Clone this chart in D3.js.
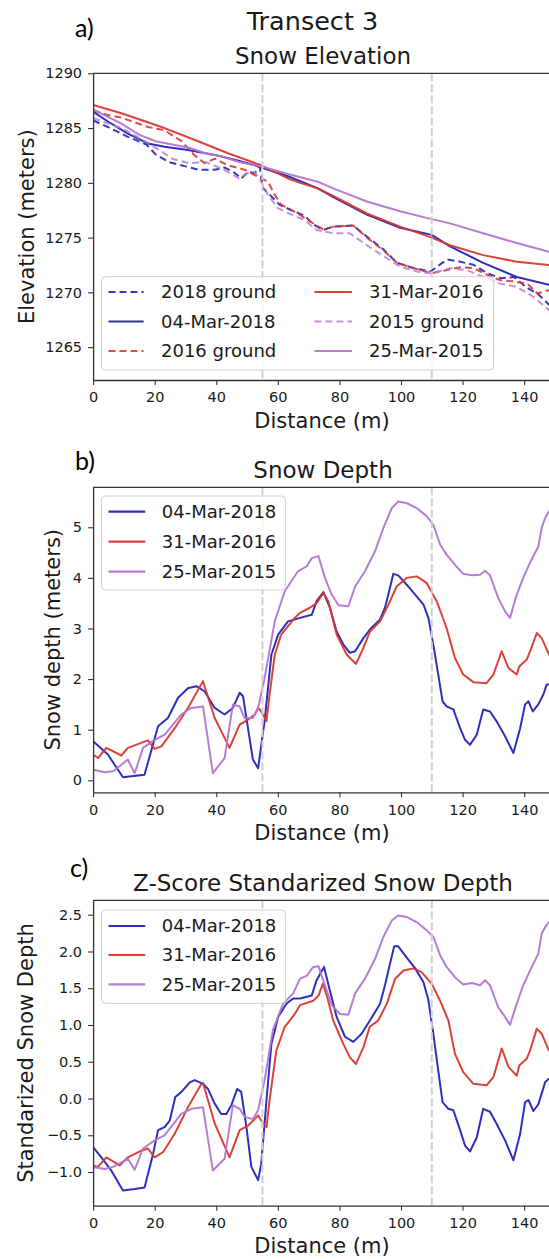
<!DOCTYPE html>
<html><head><meta charset="utf-8">
<script src="https://cdn.jsdelivr.net/npm/d3@7"></script>
<style>
body{margin:0;background:#fff;}
svg{display:block;font-family:"DejaVu Sans",sans-serif;background:#fff;}
</style></head><body>
<svg id="chart" width="549" height="1259"></svg>
<script>
// ---------- DATA (distance m, value) ----------
const xTicks = [0, 20, 40, 60, 80, 100, 120, 140];
const elevTicks = [1265, 1270, 1275, 1280, 1285, 1290];
const depthTicks = [0, 1, 2, 3, 4, 5];
const zTicks = [-1.0, -0.5, 0.0, 0.5, 1.0, 1.5, 2.0, 2.5];
const markerDistances = [55, 110];

const ground2018 = [[0,1285.7],[4.8,1285.1],[11.3,1284.2],[17.3,1283.5],[20.3,1282.6],[24.6,1281.9],[30,1281.5],[34.3,1281.2],[39.5,1281.2],[42.8,1281.4],[46,1280.9],[48.2,1280.4],[50.3,1281.0],[52.5,1280.9],[54.1,1281.5],[55.2,1279.5],[57.4,1278.9],[60.6,1278.0],[64.4,1277.5],[68.7,1277.0],[71.5,1276.2],[74.8,1275.7],[78,1276.0],[84.5,1276.1],[88.9,1275.1],[94.4,1273.9],[98.7,1272.7],[104.2,1272.2],[109.6,1271.9],[111.7,1272.35],[115,1273.0],[119.3,1272.8],[123.7,1272.5],[128,1271.75],[132.3,1271.3],[136.7,1271.4],[141,1270.4],[144.3,1269.9],[148,1268.9],[150,1268.4]];
const snow2018 = [[0,1286.5],[4.8,1285.6],[11.3,1284.5],[17.8,1283.6],[23.2,1283.3],[30.8,1283.0],[39.5,1282.55],[46,1282.1],[52.5,1281.6],[54.6,1281.4],[63.3,1280.6],[73,1279.5],[78,1278.7],[88.9,1277.1],[99.7,1275.9],[110,1275.25],[115.9,1274.2],[126.7,1272.7],[137.6,1271.4],[148,1270.7],[150,1270.5]];
const ground2016 = [[0,1286.6],[4.8,1286.2],[9.2,1285.95],[17.8,1285.1],[23.2,1284.8],[28.7,1283.8],[33,1282.5],[36.2,1281.8],[39.5,1282.2],[43.8,1281.6],[49.2,1281.2],[52.5,1280.7],[54.6,1280.4],[56.8,1280.1],[59,1278.9],[61.1,1278.0],[63.3,1277.7],[67.6,1277.0],[72.6,1276.1],[74.8,1275.75],[78,1276.0],[84.5,1276.1],[88.9,1275.0],[94.4,1273.8],[98.7,1272.7],[104.2,1272.2],[110,1271.75],[115,1272.05],[119.3,1272.3],[123.7,1272.2],[128,1271.6],[132.3,1271.1],[136.7,1271.0],[141,1270.8],[144.3,1269.9],[148,1270.2],[150,1270.3]];
const snow2016 = [[0,1287.1],[9.2,1286.35],[23.2,1285.0],[34.1,1283.8],[43.8,1282.7],[54.6,1281.6],[63.3,1280.4],[67.2,1280.0],[73,1279.5],[78,1278.8],[88.9,1277.2],[99.7,1276.0],[110,1275.0],[115.9,1274.3],[126.7,1273.4],[137.6,1272.8],[148,1272.5],[150,1272.4]];
const ground2015 = [[0,1285.9],[9.2,1285.0],[14.9,1284.1],[20.3,1283.2],[25.7,1282.2],[31.1,1281.8],[36.5,1281.9],[41.9,1281.3],[47.4,1280.4],[50.3,1280.9],[52.5,1281.0],[54.6,1280.1],[56.8,1278.9],[60,1277.7],[64.4,1277.1],[68.7,1276.6],[72.6,1275.7],[78,1275.4],[83.4,1275.4],[88.9,1274.3],[94.4,1273.3],[99.7,1272.35],[105.1,1271.9],[110,1271.75],[115.9,1272.2],[121.3,1272.05],[126.7,1271.4],[132.1,1270.8],[137.6,1270.5],[143,1269.6],[148,1268.4],[150,1267.9]];
const snow2015 = [[0,1286.7],[9.2,1285.4],[14.9,1284.4],[20.3,1283.8],[25.7,1283.5],[31.1,1283.2],[36.5,1282.7],[41.9,1282.4],[47.4,1281.9],[54.6,1281.5],[63.3,1280.8],[73,1280.1],[78,1279.5],[88.9,1278.3],[99.7,1277.4],[108.3,1276.8],[115.9,1276.3],[126.7,1275.4],[137.6,1274.5],[148,1273.7],[150,1273.55]];

const depth2018 = [[0,0.77],[4.8,0.51],[9.7,0.06],[16.7,0.11],[21.1,1.07],[24.3,1.23],[27.6,1.63],[30.8,1.82],[33.5,1.86],[36.2,1.76],[39.5,1.43],[42.7,1.30],[45.4,1.43],[47.6,1.73],[48.7,1.66],[51.9,0.41],[53.6,0.24],[55.7,1.17],[57.9,2.48],[60.1,2.88],[63.3,3.14],[67.2,3.21],[71,3.27],[72.6,3.54],[74.8,3.72],[76.9,3.41],[79.1,2.94],[81.3,2.68],[83.4,2.52],[85.1,2.55],[87.8,2.81],[89.9,2.98],[93.2,3.18],[94.8,3.41],[96.4,3.80],[97.5,4.08],[99.1,4.05],[101.8,3.87],[104.6,3.67],[107.3,3.47],[108.9,3.21],[110.5,2.68],[112.1,2.09],[113.5,1.56],[114.8,1.46],[117,1.40],[119.2,1.03],[120.8,0.80],[122.4,0.70],[124.6,0.90],[126.7,1.40],[128.9,1.36],[131,1.17],[133.8,0.87],[136.5,0.54],[138.7,1.03],[140.3,1.50],[141.4,1.56],[142.8,1.36],[144.6,1.50],[146.2,1.69],[147.3,1.89],[150,1.92]];
const depth2016 = [[0,0.51],[1.6,0.44],[4.3,0.64],[9.2,0.49],[11.3,0.64],[17.8,0.79],[20,0.62],[22.2,0.67],[26.5,1.03],[30.8,1.43],[35.7,1.96],[36.2,1.86],[39.5,1.23],[44.3,0.64],[47.6,1.10],[50.3,1.20],[52.5,1.30],[53.6,1.43],[54.6,1.36],[56.3,1.17],[57.3,1.69],[59,2.48],[61.1,2.88],[65.5,3.21],[67.2,3.31],[70.4,3.41],[72.6,3.50],[74.8,3.70],[76.4,3.54],[79.1,2.88],[82.4,2.48],[85.4,2.30],[87.8,2.62],[89.9,2.94],[93.2,3.14],[95.9,3.47],[98.6,3.83],[101.8,4.00],[105.1,4.03],[108.3,3.90],[111.6,3.54],[114.8,3.01],[117.5,2.42],[120.2,2.09],[123.5,1.94],[127.8,1.92],[130,2.09],[132.7,2.55],[134.9,2.22],[137.6,2.09],[138.4,2.25],[140.8,2.38],[141.9,2.55],[144.1,2.91],[145.7,2.81],[148.1,2.48],[150,2.40]];
const depth2015 = [[0,0.21],[3.8,0.16],[6.5,0.18],[11.3,0.41],[13.5,0.14],[16.2,0.64],[20,0.80],[23.2,0.90],[28.6,1.30],[31.9,1.43],[35.7,1.46],[38.9,0.14],[42.7,0.44],[45.4,1.50],[47.6,1.46],[49.2,1.23],[51.9,1.23],[53.6,1.43],[55.7,2.02],[59,3.14],[62.2,3.73],[66.5,4.13],[69.4,4.23],[71,4.39],[73.2,4.43],[75.3,4.00],[77.5,3.67],[79.7,3.46],[82.9,3.44],[85.1,3.83],[88.3,4.13],[91.6,4.53],[94.3,4.99],[97,5.38],[99.1,5.51],[101.8,5.48],[105.1,5.38],[108.3,5.22],[110.5,5.05],[112.7,4.66],[114.8,4.46],[117.5,4.26],[120.2,4.08],[123,4.05],[125.7,4.06],[127.3,4.14],[128.9,4.05],[131.6,3.60],[133.8,3.34],[135.4,3.21],[137.6,3.67],[139.7,4.00],[141.9,4.30],[144.6,4.62],[145.7,4.99],[146.8,5.18],[148.1,5.32],[150,5.40]];

const z2018 = [[0,-0.66],[2.7,-0.80],[5.9,-0.98],[9.7,-1.25],[13.5,-1.23],[16.7,-1.21],[19.5,-0.75],[21.1,-0.43],[23.2,-0.39],[24.9,-0.30],[26.7,0.02],[28.7,0.09],[31.4,0.22],[33,0.25],[35.7,0.20],[37.3,0.13],[39.5,-0.07],[41.6,-0.21],[43.3,-0.21],[44.9,-0.09],[46.8,0.13],[48.1,0.09],[49.8,-0.39],[51.4,-0.93],[53.6,-1.11],[54.6,-0.89],[56.3,-0.03],[57.9,0.74],[60.1,1.11],[62.8,1.29],[65,1.36],[67.2,1.36],[71,1.40],[72.6,1.61],[75,1.79],[76.9,1.47],[79.1,1.11],[81.8,0.84],[84.5,0.77],[87.2,0.88],[89.9,1.06],[93.2,1.29],[94.8,1.54],[96.4,1.83],[97.8,2.07],[99.1,2.07],[101.8,1.92],[104.6,1.77],[107.3,1.58],[108.9,1.34],[110.5,0.88],[112.1,0.38],[113.5,-0.05],[115.4,-0.14],[117,-0.16],[119.2,-0.43],[120.8,-0.64],[122.4,-0.72],[124.6,-0.53],[126.7,-0.14],[128.9,-0.18],[131,-0.34],[133.8,-0.57],[136.5,-0.84],[138.7,-0.48],[140.3,-0.05],[141.4,-0.02],[143,-0.17],[144.6,-0.08],[146.8,0.22],[148.1,0.27],[150,0.28]];
const z2016 = [[0,-0.91],[1.6,-0.93],[4.3,-0.80],[8.6,-0.91],[11.3,-0.80],[15.7,-0.71],[17.8,-0.68],[20,-0.80],[22.7,-0.73],[26.5,-0.48],[30.8,-0.12],[35.2,0.20],[35.7,0.21],[39.5,-0.34],[44.3,-0.80],[47.6,-0.43],[50.3,-0.37],[53.6,-0.23],[54.6,-0.30],[56.3,-0.39],[57.3,-0.03],[59.5,0.65],[62.2,0.97],[65.5,1.15],[67.2,1.27],[71.5,1.33],[73.2,1.40],[74.6,1.56],[75.9,1.40],[78,1.06],[81.3,0.74],[83.4,0.56],[85.4,0.47],[87.8,0.70],[89.9,0.98],[92.6,1.06],[95.4,1.29],[98.1,1.63],[100.8,1.74],[104,1.77],[106.7,1.72],[110,1.56],[112.7,1.33],[115.4,1.06],[117.5,0.61],[120.2,0.36],[123.5,0.20],[127.8,0.18],[130,0.29],[132.7,0.68],[134.9,0.43],[137.6,0.31],[138.4,0.45],[140.8,0.54],[141.9,0.65],[144.1,0.95],[145.7,0.88],[148.1,0.65],[150,0.60]];
const z2015 = [[0,-0.93],[3.8,-0.96],[6.5,-0.93],[11.3,-0.82],[13.5,-0.97],[16.2,-0.68],[20,-0.57],[23.2,-0.50],[28.6,-0.21],[31.9,-0.14],[35.7,-0.12],[38.9,-0.98],[42.7,-0.82],[45.4,-0.09],[47.6,-0.14],[49.2,-0.25],[51.9,-0.28],[53.6,-0.16],[55.7,0.25],[58.4,0.93],[61.7,1.29],[65,1.43],[67.2,1.63],[69.4,1.67],[71.5,1.79],[73.2,1.80],[75.3,1.54],[77.5,1.27],[80.2,1.15],[82.9,1.14],[85.1,1.43],[88.3,1.63],[91.6,1.90],[94.3,2.20],[97,2.42],[99.1,2.49],[101.8,2.47],[105.1,2.40],[108.3,2.29],[110.5,2.20],[112.7,1.95],[114.8,1.79],[117.5,1.65],[120.2,1.55],[123,1.57],[125.7,1.54],[127.3,1.61],[128.9,1.54],[131.6,1.24],[133.8,1.11],[135.4,1.00],[137.6,1.29],[139.7,1.54],[141.9,1.74],[144.6,1.97],[145.7,2.24],[146.8,2.33],[148.1,2.40],[150,2.45]];

// ---------- STYLE ----------
const BLUE = "#2424b6", RED = "#d8392e", PURPLE = "#b475d3";
const TXT = "#1a1a1a", SPINE = "#333";
const svg = d3.select("#chart");
const X0 = 93.1, XPX = 3.079, XMAX = 150;
const x = d3.scaleLinear().domain([0, XMAX]).range([X0, X0 + XMAX * XPX]);
const line = d3.line();

function panel(cfg) {
  const y = d3.scaleLinear().domain(cfg.ydom).range([cfg.bottom, cfg.top]);
  const g = svg.append("g");
  const clipId = "clip" + cfg.id;
  svg.append("clipPath").attr("id", clipId).append("rect")
    .attr("x", X0).attr("y", cfg.top).attr("width", x(XMAX) - X0).attr("height", cfg.bottom - cfg.top);
  const lg = g.append("g").attr("clip-path", `url(#${clipId})`);
  line.x(d => x(d[0])).y(d => y(d[1]));
  cfg.series.forEach(s => {
    lg.append("path").datum(s.data).attr("d", line)
      .attr("fill", "none").attr("stroke", s.color).attr("stroke-width", 2)
      .attr("stroke-opacity", s.op || 0.95)
      .attr("stroke-dasharray", s.dash ? "7,4" : null)
      .attr("stroke-linejoin", "round");
  });
  markerDistances.forEach(m => {
    lg.append("line").attr("x1", x(m)).attr("x2", x(m)).attr("y1", cfg.top).attr("y2", cfg.bottom)
      .attr("stroke", "#cfcfcf").attr("stroke-width", 2).attr("stroke-dasharray", "8,3");
  });
  const ax = g.append("g").attr("transform", `translate(0,${cfg.bottom})`)
    .call(d3.axisBottom(x).tickValues(xTicks).tickFormat(d3.format("d")).tickSize(5).tickSizeOuter(0).tickPadding(7));
  const ay = g.append("g").attr("transform", `translate(${X0},0)`)
    .call(d3.axisLeft(y).tickValues(cfg.ticks).tickFormat(cfg.fmt).tickSize(5).tickSizeOuter(0).tickPadding(6));
  [ax, ay].forEach(a => {
    a.select(".domain").attr("stroke", SPINE).attr("stroke-width", 1.3);
    a.selectAll(".tick line").attr("stroke", SPINE).attr("stroke-width", 1.1);
    a.selectAll(".tick text").attr("fill", TXT).style("font-size", "14.5px").style("font-family", "DejaVu Sans");
  });
  g.append("line").attr("x1", X0).attr("x2", x(XMAX)).attr("y1", cfg.top).attr("y2", cfg.top)
    .attr("stroke", SPINE).attr("stroke-width", 1.3);
  g.append("text").attr("x", 322).attr("y", cfg.bottom + 47.6).attr("text-anchor", "middle")
    .attr("fill", TXT).style("font-size", "21px").text("Distance (m)");
  g.append("text").attr("transform", `translate(${cfg.ylabX},${(cfg.top + cfg.bottom) / 2}) rotate(-90)`)
    .attr("text-anchor", "middle").attr("fill", TXT).style("font-size", "21px").text(cfg.ylabel);
  g.append("text").attr("x", 323).attr("y", cfg.top - 9.8).attr("text-anchor", "middle")
    .attr("fill", TXT).style("font-size", "23px").text(cfg.title);
  g.append("text").attr("x", cfg.tag[0]).attr("y", cfg.tag[1]).attr("fill", "#000")
    .style("font-family", "Lato, 'Open Sans', sans-serif").style("font-size", "25px").text(cfg.tag[2]);
  const L = cfg.legend;
  const lgd = g.append("g");
  lgd.append("rect").attr("x", L.box[0]).attr("y", L.box[1]).attr("width", L.box[2]).attr("height", L.box[3])
    .attr("rx", 4).attr("fill", "#fff").attr("fill-opacity", 0.8).attr("stroke", "#d0d0d0").attr("stroke-width", 1);
  L.items.forEach((it, i) => {
    const col = L.cols[Math.floor(i / L.rows.length)];
    const ry = L.rows[i % L.rows.length];
    lgd.append("line").attr("x1", col[0]).attr("x2", col[1]).attr("y1", ry).attr("y2", ry)
      .attr("stroke", it.color).attr("stroke-width", 2.2).attr("stroke-opacity", it.op || 0.95)
      .attr("stroke-dasharray", it.dash ? "7,4" : null);
    lgd.append("text").attr("x", col[2]).attr("y", ry).attr("dy", "0.36em").attr("fill", TXT)
      .style("font-size", "18px").text(it.label);
  });
}

svg.append("text").attr("x", 312.5).attr("y", 29.5).attr("text-anchor", "middle").attr("fill", TXT)
  .style("font-size", "25.5px").text("Transect 3");

const sA = [
  {label: "2018 ground", data: ground2018, color: BLUE, dash: true, op: 0.9},
  {label: "04-Mar-2018", data: snow2018, color: BLUE},
  {label: "2016 ground", data: ground2016, color: RED, dash: true, op: 0.9},
  {label: "31-Mar-2016", data: snow2016, color: RED},
  {label: "2015 ground", data: ground2015, color: PURPLE, dash: true, op: 0.8},
  {label: "25-Mar-2015", data: snow2015, color: PURPLE}
];
panel({id: "a", top: 73.3, bottom: 380, ydom: [1262, 1290], ticks: elevTicks, fmt: d3.format("d"),
  ylabel: "Elevation (meters)", ylabX: 34, title: "Snow Elevation", tag: [75, 37, "a)"],
  series: sA,
  legend: {box: [101.5, 276.7, 392.2, 93.3], rows: [292, 321.5, 351],
    cols: [[108.5, 143.6, 161], [314.4, 351.9, 369]], items: sA}});

const sB = [
  {label: "04-Mar-2018", data: depth2018, color: BLUE},
  {label: "31-Mar-2016", data: depth2016, color: RED},
  {label: "25-Mar-2015", data: depth2015, color: PURPLE}
];
panel({id: "b", top: 487.3, bottom: 792.3, ydom: [-0.237, 5.79], ticks: depthTicks, fmt: d3.format("d"),
  ylabel: "Snow depth (meters)", ylabX: 60, title: "Snow Depth", tag: [75, 470, "b)"],
  series: sB,
  legend: {box: [101.5, 496, 183.9, 94], rows: [511.7, 541.7, 571.7],
    cols: [[108.5, 145.3, 161.8]], items: sB}});

const sC = [
  {label: "04-Mar-2018", data: z2018, color: BLUE},
  {label: "31-Mar-2016", data: z2016, color: RED},
  {label: "25-Mar-2015", data: z2015, color: PURPLE}
];
panel({id: "c", top: 900.3, bottom: 1205.7, ydom: [-1.458, 2.696], ticks: zTicks,
  fmt: d => d3.format(".1f")(d).replace("-", "\u2212"),
  ylabel: "Standarized Snow Depth", ylabX: 33, title: "Z-Score Standarized Snow Depth", tag: [70, 877, "c)"],
  series: sC,
  legend: {box: [101.5, 910, 183.9, 93.3], rows: [926, 955, 984.3],
    cols: [[108.5, 145.3, 161.8]], items: sC}});
</script>
</body></html>
